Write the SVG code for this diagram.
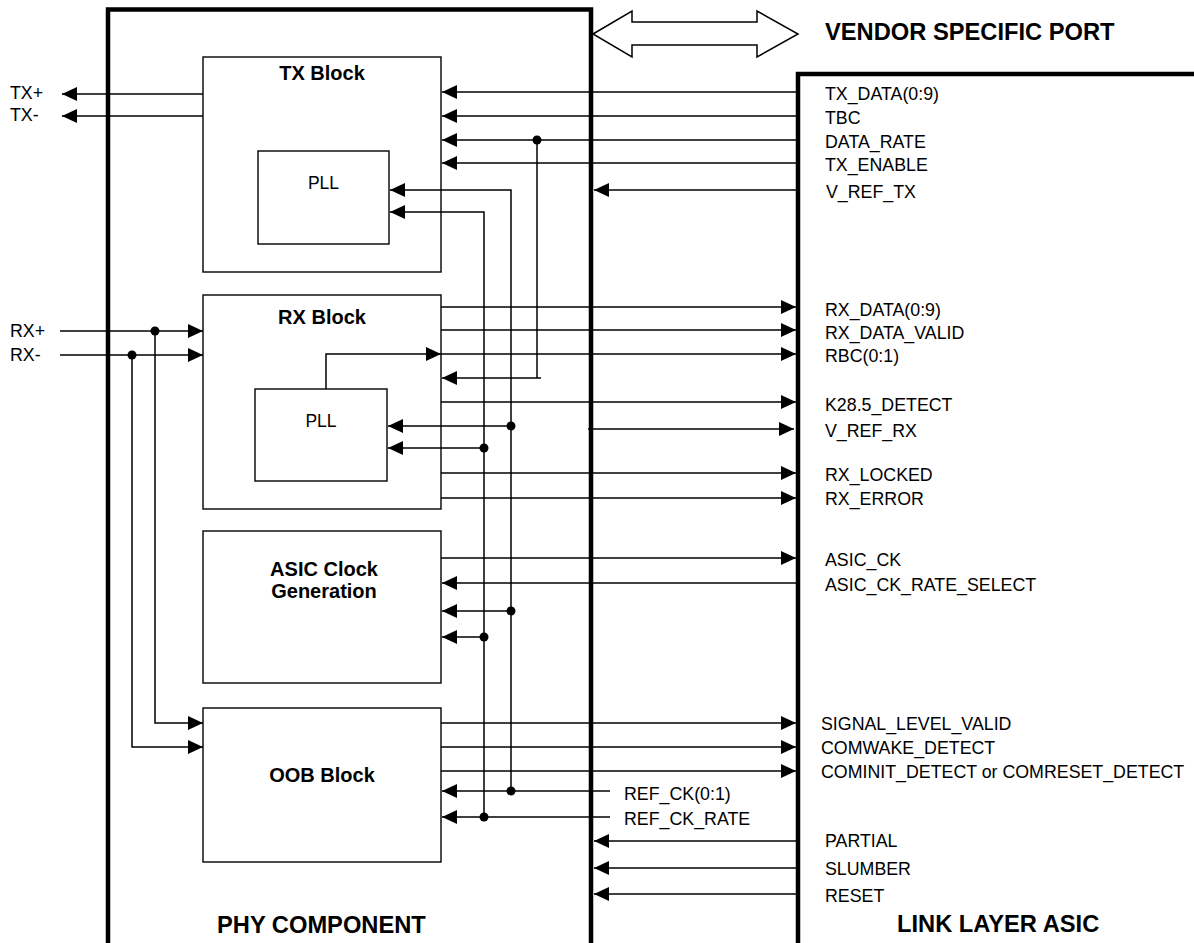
<svg xmlns="http://www.w3.org/2000/svg" width="1194" height="943" viewBox="0 0 1194 943">
<defs>
<marker id="ah" markerWidth="16" markerHeight="16" refX="15" refY="7" orient="auto" markerUnits="userSpaceOnUse"><path d="M0,0 L15,7 L0,14 z" fill="#000"/></marker>
<style>
.blk{fill:#fff;stroke:#000;stroke-width:1.4}
.big{fill:none;stroke:#000;stroke-width:4.5}
.ln{fill:none;stroke:#000;stroke-width:1.5}
.ar{fill:none;stroke:#000;stroke-width:1.5;marker-end:url(#ah)}
.t{font-family:"Liberation Sans",Arial,sans-serif;font-size:17.8px;fill:#000}
.p{font-family:"Liberation Sans",Arial,sans-serif;font-size:17.5px;fill:#000;text-anchor:middle}
.tb{font-family:"Liberation Sans",Arial,sans-serif;font-size:20px;font-weight:bold;fill:#000;text-anchor:middle}
.tt{font-family:"Liberation Sans",Arial,sans-serif;font-size:23.7px;font-weight:bold;fill:#000}
.dot{fill:#000}
</style>
</defs>
<rect width="1194" height="943" fill="#fff"/>
<g id="phy">
<path class="big" d="M108,943 V9.5 H591 V943"/>
<text class="tt" x="217" y="933">PHY COMPONENT</text>
</g>
<g id="link">
<path class="big" d="M798,943 V74 H1196"/>
<text class="tt" x="897" y="932">LINK LAYER ASIC</text>
</g>
<g id="vendor">
<polygon points="593,34 632,11 632,22 757,22 757,11 798,34 757,57 757,45 632,45 632,57" fill="#fff" stroke="#000" stroke-width="1.5"/>
<text class="tt" x="825" y="40">VENDOR SPECIFIC PORT</text>
</g>
<g id="tx-block">
<rect class="blk" x="203" y="57" width="238" height="215"/>
<text class="tb" x="322" y="80">TX Block</text>
</g>
<g id="tx-pll">
<rect class="blk" x="258" y="151" width="131" height="93"/>
<text class="p" x="323.5" y="189">PLL</text>
</g>
<g id="rx-block">
<rect class="blk" x="203" y="295" width="238" height="214"/>
<text class="tb" x="322" y="324">RX Block</text>
</g>
<g id="rx-pll">
<rect class="blk" x="255" y="389" width="132" height="92"/>
<text class="p" x="321" y="427">PLL</text>
</g>
<g id="asic-clock">
<rect class="blk" x="203" y="531" width="238" height="152"/>
<text class="tb" x="324" y="576">ASIC Clock</text>
<text class="tb" x="324" y="598">Generation</text>
</g>
<g id="oob-block">
<rect class="blk" x="203" y="708" width="238" height="154"/>
<text class="tb" x="322" y="782">OOB Block</text>
</g>
<g id="connectors">
<line class="ar" x1="203" y1="94" x2="62" y2="94"/>
<line class="ar" x1="203" y1="116" x2="62" y2="116"/>
<line class="ar" x1="796" y1="92" x2="442" y2="92"/>
<line class="ar" x1="796" y1="116" x2="442" y2="116"/>
<line class="ar" x1="796" y1="140" x2="442" y2="140"/>
<line class="ar" x1="796" y1="163" x2="442" y2="163"/>
<line class="ar" x1="796" y1="190" x2="594" y2="190"/>
<path class="ar" d="M511,791 V190 H390"/>
<path class="ar" d="M484,817 V212 H390"/>
<line class="ln" x1="537" y1="140" x2="537" y2="378"/>
<line class="ar" x1="541" y1="378" x2="442" y2="378"/>
<line class="ar" x1="60" y1="331" x2="203" y2="331"/>
<line class="ar" x1="60" y1="355" x2="203" y2="355"/>
<path class="ar" d="M155,331 V723 H203"/>
<path class="ar" d="M132,355 V747 H203"/>
<path class="ar" d="M326,389 V354 H441"/>
<line class="ar" x1="441" y1="307" x2="796" y2="307"/>
<line class="ar" x1="441" y1="330" x2="796" y2="330"/>
<line class="ar" x1="441" y1="354" x2="796" y2="354"/>
<line class="ar" x1="441" y1="402" x2="796" y2="402"/>
<line class="ar" x1="588" y1="429" x2="794" y2="429"/>
<line class="ar" x1="441" y1="473" x2="796" y2="473"/>
<line class="ar" x1="441" y1="498" x2="796" y2="498"/>
<line class="ar" x1="511" y1="426" x2="388" y2="426"/>
<line class="ar" x1="484" y1="448" x2="388" y2="448"/>
<line class="ar" x1="441" y1="558" x2="796" y2="558"/>
<line class="ar" x1="796" y1="583" x2="442" y2="583"/>
<line class="ar" x1="511" y1="611" x2="442" y2="611"/>
<line class="ar" x1="484" y1="637" x2="442" y2="637"/>
<line class="ar" x1="441" y1="723" x2="796" y2="723"/>
<line class="ar" x1="441" y1="747" x2="796" y2="747"/>
<line class="ar" x1="441" y1="771" x2="796" y2="771"/>
<line class="ar" x1="610" y1="791" x2="442" y2="791"/>
<line class="ar" x1="610" y1="817" x2="442" y2="817"/>
<line class="ar" x1="796" y1="841" x2="594" y2="841"/>
<line class="ar" x1="796" y1="868" x2="594" y2="868"/>
<line class="ar" x1="796" y1="894" x2="594" y2="894"/>
<circle class="dot" cx="537" cy="140" r="4.5"/>
<circle class="dot" cx="155" cy="331" r="4.5"/>
<circle class="dot" cx="132" cy="355" r="4.5"/>
<circle class="dot" cx="511" cy="426" r="4.5"/>
<circle class="dot" cx="484" cy="448" r="4.5"/>
<circle class="dot" cx="511" cy="611" r="4.5"/>
<circle class="dot" cx="484" cy="637" r="4.5"/>
<circle class="dot" cx="511" cy="791" r="4.5"/>
<circle class="dot" cx="484" cy="817" r="4.5"/>
</g>
<g id="labels">
<text class="t" x="10" y="99">TX+</text>
<text class="t" x="10" y="121">TX-</text>
<text class="t" x="10" y="337">RX+</text>
<text class="t" x="10" y="361">RX-</text>
<text class="t" x="825" y="100">TX_DATA(0:9)</text>
<text class="t" x="825" y="124">TBC</text>
<text class="t" x="825" y="148">DATA_RATE</text>
<text class="t" x="825" y="171">TX_ENABLE</text>
<text class="t" x="826" y="198">V_REF_TX</text>
<text class="t" x="825" y="316">RX_DATA(0:9)</text>
<text class="t" x="825" y="339">RX_DATA_VALID</text>
<text class="t" x="825" y="362">RBC(0:1)</text>
<text class="t" x="825" y="411">K28.5_DETECT</text>
<text class="t" x="825" y="437">V_REF_RX</text>
<text class="t" x="825" y="481">RX_LOCKED</text>
<text class="t" x="825" y="505">RX_ERROR</text>
<text class="t" x="825" y="566">ASIC_CK</text>
<text class="t" x="825" y="591">ASIC_CK_RATE_SELECT</text>
<text class="t" x="821" y="730">SIGNAL_LEVEL_VALID</text>
<text class="t" x="821" y="754">COMWAKE_DETECT</text>
<text class="t" x="821" y="778">COMINIT_DETECT or COMRESET_DETECT</text>
<text class="t" x="624" y="800">REF_CK(0:1)</text>
<text class="t" x="624" y="825">REF_CK_RATE</text>
<text class="t" x="825" y="847">PARTIAL</text>
<text class="t" x="825" y="875">SLUMBER</text>
<text class="t" x="825" y="902">RESET</text>
</g>
</svg>
